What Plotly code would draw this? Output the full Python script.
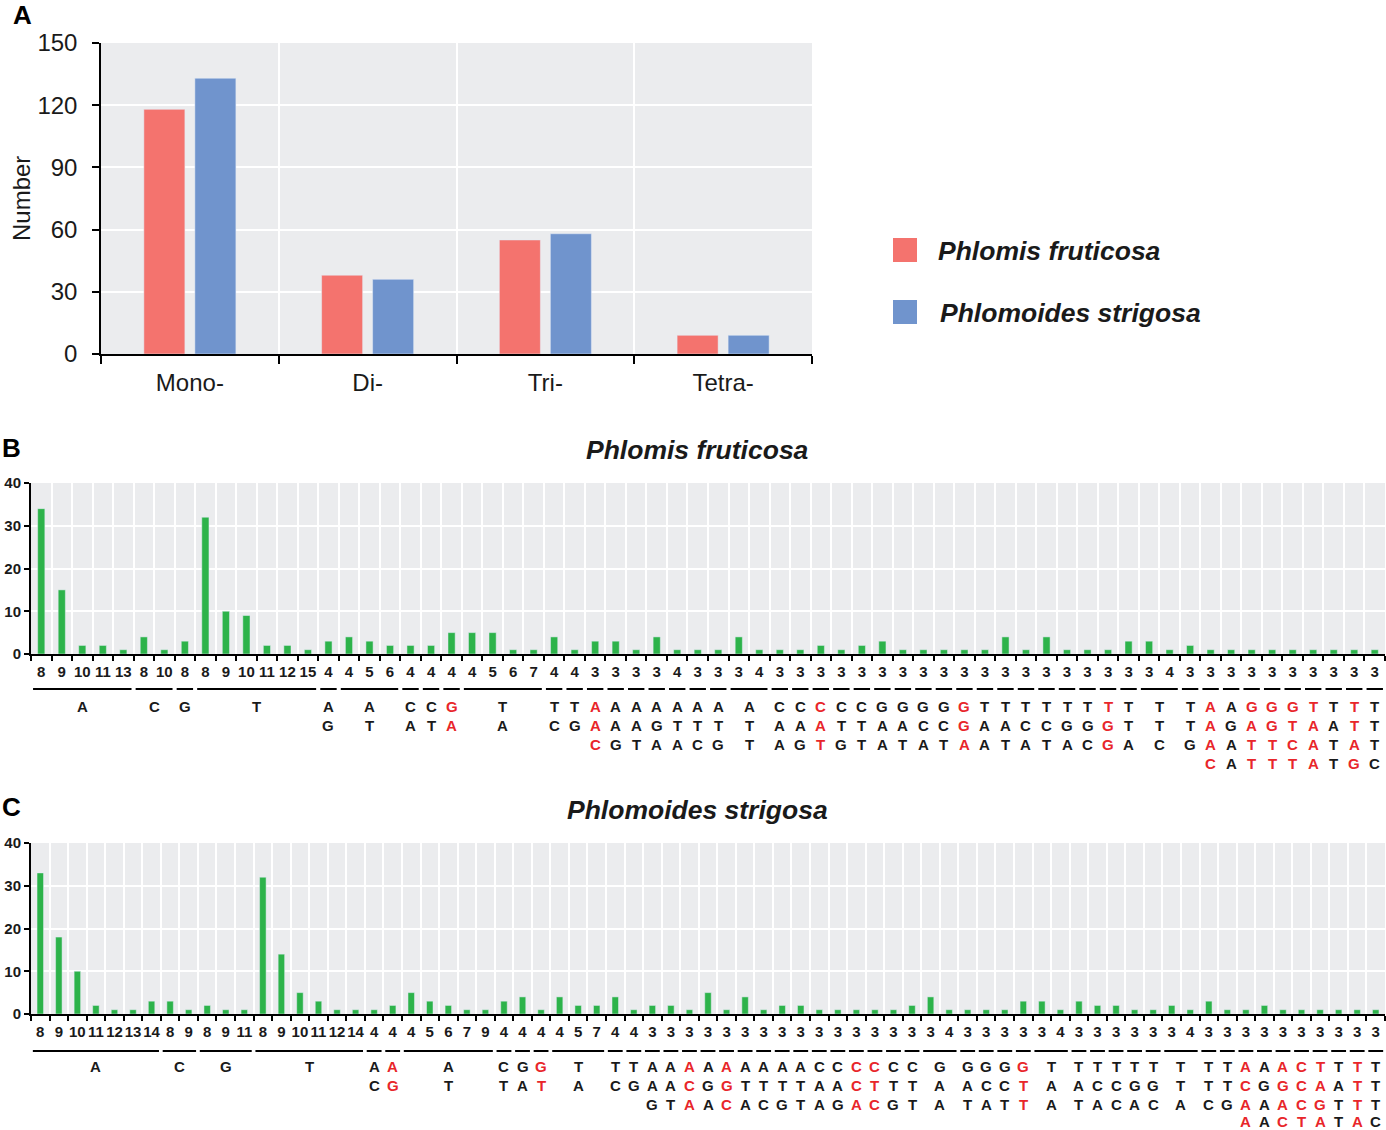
import plotly.graph_objects as go

# ---------------- data ----------------
A_classes = ["Mono-", "Di-", "Tri-", "Tetra-"]
A_fruticosa = [118, 38, 55, 9]
A_strigosa = [133, 36, 58, 9]
species = ["Phlomis fruticosa", "Phlomoides strigosa"]

B_motifs = ["A", "C", "G", "T", "AG", "AT", "CA", "CT", "GA", "TA", "TC", "TG",
            "AAC", "AAG", "AAT", "AGA", "ATA", "ATC", "ATG", "ATT", "CAA", "CAG",
            "CAT", "CTG", "CTT", "GAA", "GAT", "GCA", "GCT", "GGA", "TAA", "TAT",
            "TCA", "TCT", "TGA", "TGC", "TGG", "TTA", "TTC", "TTG",
            "AAAC", "AGAA", "GATT", "GGTT", "GTCT", "TAAA", "TATT", "TTAG", "TTTC"]
B_repeats = [[8, 9, 10, 11, 13], [8, 10], [8], [8, 9, 10, 11, 12, 15], [4], [4, 5, 6],
             [4], [4], [4], [4, 5, 6, 7], [4], [4],
             [3], [3], [3], [3], [4], [3], [3], [3, 4], [3], [3],
             [3], [3], [3], [3], [3], [3], [3], [3], [3], [3],
             [3], [3], [3], [3], [3], [3], [3, 4], [3],
             [3], [3], [3], [3], [3], [3], [3], [3], [3]]
B_counts = [[34, 15, 2, 2, 1], [4, 1], [3], [32, 10, 9, 2, 2, 1], [3], [4, 3, 2],
            [2], [2], [5], [5, 5, 1, 1], [4], [1],
            [3], [3], [1], [4], [1], [1], [1], [4, 1], [1], [1],
            [2], [1], [2], [3], [1], [1], [1], [1], [1], [4],
            [1], [4], [1], [1], [1], [3], [3, 1], [2],
            [1], [1], [1], [1], [1], [1], [1], [1], [1]]
B_red = ["GA", "AAC", "CAT", "GGA", "TGG", "AAAC", "GATT", "GGTT", "GTCT", "TAAA", "TTAG"]

C_motifs = ["A", "C", "G", "T", "AC", "AG", "AT", "CT", "GA", "GT", "TA", "TC", "TG",
            "AAG", "AAT", "ACA", "AGA", "AGC", "ATA", "ATC", "ATG", "ATT", "CAA", "CAG",
            "CCA", "CTC", "CTG", "CTT", "GAA", "GAT", "GCA", "GCT", "GTT", "TAA", "TAT",
            "TCA", "TCC", "TGA", "TGC", "TTA", "TTC", "TTG",
            "ACAA", "AGAA", "AGAC", "CCCT", "TAGA", "TATT", "TTTA", "TTTC"]
C_repeats = [[8, 9, 10, 11, 12, 13, 14], [8, 9], [8, 9, 11], [8, 9, 10, 11, 12, 14],
             [4], [4], [4, 5, 6, 7, 9], [4], [4], [4], [4, 5, 7], [4], [4],
             [3], [3], [3], [3], [3], [3], [3], [3], [3], [3], [3],
             [3], [3], [3], [3], [3, 4], [3], [3], [3], [3], [3, 4], [3],
             [3], [3], [3], [3], [3, 4], [3], [3],
             [3], [3], [3], [3], [3], [3], [3], [3]]
C_counts = [[33, 18, 10, 2, 1, 1, 3], [3, 1], [2, 1, 1], [32, 14, 5, 3, 1, 1],
            [1], [2], [5, 3, 2, 1, 1], [3], [4], [1], [4, 2, 2], [4], [1],
            [2], [2], [1], [5], [1], [4], [1], [2], [2], [1], [1],
            [1], [1], [1], [2], [4, 1], [1], [1], [1], [3], [3, 1], [3],
            [2], [2], [1], [1], [2, 1], [3], [1],
            [1], [2], [1], [1], [1], [1], [1], [1]]
C_red = ["AG", "GT", "ACA", "AGC", "CCA", "CTC", "GTT", "ACAA", "AGAC", "CCCT", "TAGA", "TTTA"]

# ---------------- styles ----------------
W, H = 1386, 1130
RED = "#F4736E"
BLUE = "#7094CD"
GREEN = "#2DB34A"
BG = "#EBECEE"
TXT = "#1A1A1A"
HL = "#E8262A"
SANS = "Liberation Sans, Arial, sans-serif"


def px(x):
    return x / W


def py(y):
    return 1 - y / H


def flatten(motifs, repeats, counts):
    cats, labels, vals, groups = [], [], [], []
    i = 0
    for m, reps, cnts in zip(motifs, repeats, counts):
        start = i
        for r, c in zip(reps, cnts):
            cats.append(f"{m}({r})")
            labels.append(str(r))
            vals.append(c)
            i += 1
        groups.append((m, start, i - 1))
    return cats, labels, vals, groups


fig = go.Figure()

# ---- panel A ----
fig.add_trace(go.Bar(x=A_classes, y=A_fruticosa, name=species[0], marker_color=RED,
                     xaxis="x", yaxis="y", showlegend=False))
fig.add_trace(go.Bar(x=A_classes, y=A_strigosa, name=species[1], marker_color=BLUE,
                     xaxis="x", yaxis="y", showlegend=False))

shapes = []
annotations = []

# ---- panels B and C ----
panels = [
    ("x2", "y2", B_motifs, B_repeats, B_counts, B_red, 689, [706, 725, 744, 763]),
    ("x3", "y3", C_motifs, C_repeats, C_counts, C_red, 1051, [1066, 1085, 1104, 1121]),
]
tick_info = {}
for xa, ya, motifs, reps, cnts, reds, uline_y, rows in panels:
    cats, labels, vals, groups = flatten(motifs, reps, cnts)
    tick_info[xa] = (cats, labels)
    fig.add_trace(go.Bar(x=cats, y=vals, marker_color=GREEN, width=0.35,
                         xaxis=xa, yaxis=ya, showlegend=False))
    for m, s, e in groups:
        shapes.append(dict(type="line", xref=xa, yref="paper",
                           x0=s - 0.5 + 0.1, x1=e + 0.5 - 0.1,
                           y0=py(uline_y), y1=py(uline_y),
                           line=dict(color="black", width=2)))
        col = HL if m in reds else TXT
        for r, ch in enumerate(m):
            annotations.append(dict(x=(s + e) / 2, y=py(rows[r]), xref=xa, yref="paper",
                                    text=ch, showarrow=False, xanchor="center",
                                    yanchor="middle", borderpad=0,
                                    font=dict(family=SANS, size=15, color=col,
                                              weight="bold")))

# legend (manual)
for k, (name, col, yc, xt) in enumerate([(species[0], RED, 250, 936),
                                          (species[1], BLUE, 312, 938)]):
    shapes.append(dict(type="rect", xref="paper", yref="paper",
                       x0=px(893), x1=px(917), y0=py(yc + 12), y1=py(yc - 12),
                       fillcolor=col, line=dict(width=0)))
    annotations.append(dict(x=px(xt), y=py(yc + 1), xref="paper", yref="paper",
                            text=name, showarrow=False, xanchor="left", yanchor="middle",
                            font=dict(family=SANS, size=26.5, color=TXT, weight="bold",
                                      style="italic")))

# titles and panel letters
annotations += [
    dict(x=px(697), y=py(450), xref="paper", yref="paper", text=species[0],
         showarrow=False, xanchor="center", yanchor="middle",
         font=dict(family=SANS, size=26.5, color=TXT, weight="bold", style="italic")),
    dict(x=px(697), y=py(810), xref="paper", yref="paper", text=species[1],
         showarrow=False, xanchor="center", yanchor="middle",
         font=dict(family=SANS, size=26.5, color=TXT, weight="bold", style="italic")),
    dict(x=px(22), y=py(15), xref="paper", yref="paper", text="A", showarrow=False,
         xanchor="center", yanchor="middle",
         font=dict(family=SANS, size=26, color="black", weight="bold")),
    dict(x=px(11), y=py(448), xref="paper", yref="paper", text="B", showarrow=False,
         xanchor="center", yanchor="middle",
         font=dict(family=SANS, size=26, color="black", weight="bold")),
    dict(x=px(11), y=py(807), xref="paper", yref="paper", text="C", showarrow=False,
         xanchor="center", yanchor="middle",
         font=dict(family=SANS, size=26, color="black", weight="bold")),
    dict(x=px(22), y=py(199), xref="paper", yref="paper", text="Number", showarrow=False,
         textangle=-90, xanchor="center", yanchor="middle",
         font=dict(family=SANS, size=24, color=TXT)),
]

cat_axis = dict(type="category", tickson="boundaries", ticks="outside", tickcolor="black",
                showline=True, linecolor="black", showgrid=True, gridcolor="white",
                gridwidth=2, zeroline=False, fixedrange=True, tickangle=0,
                automargin=False)
val_axis = dict(ticks="outside", tickcolor="black", showline=True, linecolor="black",
                showgrid=True, gridcolor="white", gridwidth=2, zeroline=False,
                fixedrange=True, automargin=False)

xB = dict(cat_axis, domain=[px(31), px(1385)], anchor="y2", ticklen=5, tickwidth=1.5,
          linewidth=2, tickmode="array", tickvals=tick_info["x2"][0],
          ticktext=tick_info["x2"][1], ticklabelstandoff=3,
          tickfont=dict(family=SANS, size=15, color=TXT, weight="bold"))
xC = dict(cat_axis, domain=[px(31), px(1385)], anchor="y3", ticklen=5, tickwidth=1.5,
          linewidth=2, tickmode="array", tickvals=tick_info["x3"][0],
          ticktext=tick_info["x3"][1], ticklabelstandoff=3,
          tickfont=dict(family=SANS, size=15, color=TXT, weight="bold"))

fig.update_layout(
    width=W, height=H, margin=dict(l=0, r=0, t=0, b=0, pad=0, autoexpand=False),
    autosize=False,
    paper_bgcolor="white", plot_bgcolor=BG,
    barmode="group", bargap=0.426, bargroupgap=0.196,
    showlegend=False,
    xaxis=dict(cat_axis, domain=[px(101), px(812)], anchor="y", ticklen=8, tickwidth=1.5,
               linewidth=1.5, tickfont=dict(family=SANS, size=24, color=TXT),
               ticklabelstandoff=6),
    yaxis=dict(val_axis, domain=[py(354), py(43)], anchor="x", range=[0, 150],
               tickvals=[0, 30, 60, 90, 120, 150], ticklen=7, tickwidth=1.5,
               linewidth=1.5, tickfont=dict(family=SANS, size=24, color=TXT),
               ticklabelstandoff=10),
    xaxis2=xB,
    yaxis2=dict(val_axis, domain=[py(654), py(483)], anchor="x2", range=[0, 40],
                dtick=10, ticklen=5, tickwidth=1.5, linewidth=2,
                tickfont=dict(family=SANS, size=15, color=TXT, weight="bold")),
    xaxis3=xC,
    yaxis3=dict(val_axis, domain=[py(1014), py(843)], anchor="x3", range=[0, 40],
                dtick=10, ticklen=5, tickwidth=1.5, linewidth=2,
                tickfont=dict(family=SANS, size=15, color=TXT, weight="bold")),
    shapes=shapes,
    annotations=annotations,
)

page_fix = ("document.documentElement.style.margin='0';"
            "document.body.style.margin='0';"
            "document.body.style.overflow='hidden';"
            "var d=document.getElementById('{plot_id}');"
            "d.style.position='absolute';d.style.left='0px';d.style.top='0px';")

fig.write_html("out.html", post_script=page_fix,
               config={"displayModeBar": False, "responsive": False})
